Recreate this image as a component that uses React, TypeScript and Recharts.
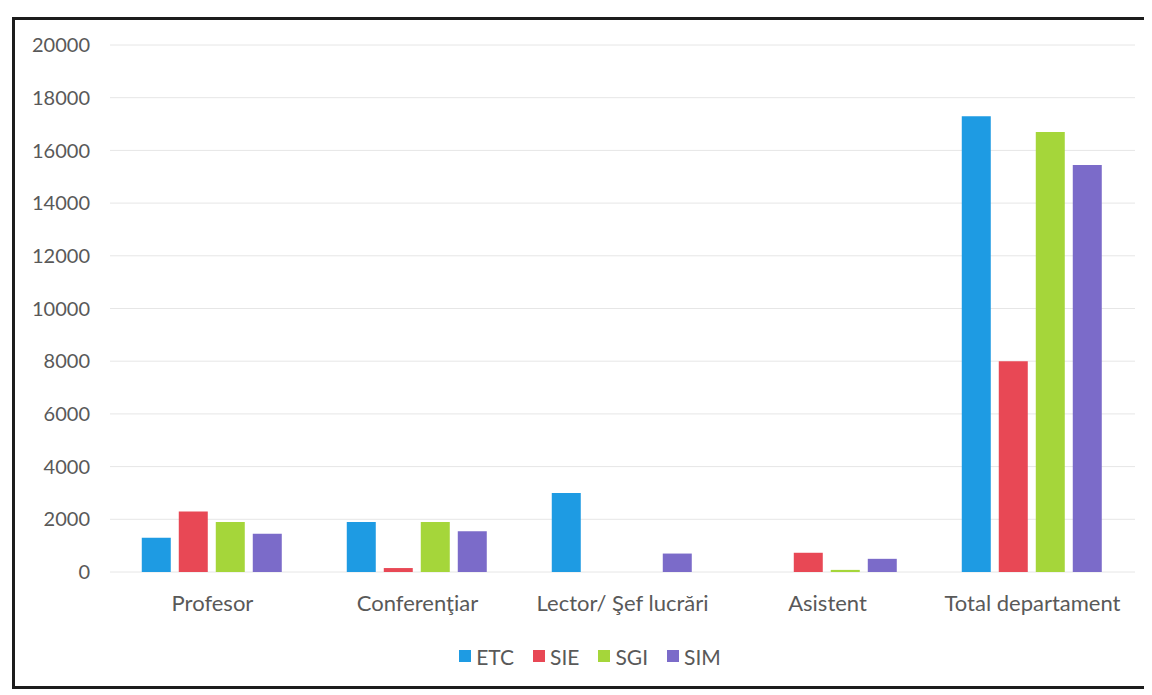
import { BarChart, Bar, XAxis, YAxis, CartesianGrid, Legend } from 'recharts';

const categories = ['Profesor', 'Conferenţiar', 'Lector/ Şef lucrări', 'Asistent', 'Total departament'];
const etc = [1300, 1900, 3000, 0, 17300];
const sie = [2300, 150, 0, 730, 8000];
const sgi = [1900, 1900, 0, 80, 16700];
const sim = [1450, 1550, 700, 500, 15450];
const yTicks = [0, 2000, 4000, 6000, 8000, 10000, 12000, 14000, 16000, 18000, 20000];
const seriesOrder = ['ETC', 'SIE', 'SGI', 'SIM'];

const data = categories.map((name, i) => ({
  name,
  ETC: etc[i],
  SIE: sie[i],
  SGI: sgi[i],
  SIM: sim[i],
}));

const FONT = 'Lato, "Open Sans", sans-serif';
const TEXT = '#595959';

// legend drawn from the payload, kept in series order
const renderLegend = ({ payload }: any) => {
  const items = [...(payload || [])].sort(
    (a: any, b: any) => seriesOrder.indexOf(a.value) - seriesOrder.indexOf(b.value)
  );
  return (
    <div style={{ display: 'flex', justifyContent: 'center', height: 30, alignItems: 'center', paddingLeft: 44 }}>
      {items.map((p: any) => (
        <span key={p.value} style={{ display: 'flex', alignItems: 'center', marginRight: 19 }}>
          <span style={{ width: 12, height: 12, background: p.color, display: 'inline-block', marginRight: 5 }} />
          <span style={{ fontSize: 21, color: TEXT, fontFamily: FONT }}>{p.value}</span>
        </span>
      ))}
    </div>
  );
};

export default function App() {
  return (
    <div style={{ position: 'relative', width: 1144, height: 687, fontFamily: FONT, overflow: 'hidden' }}>
      {/* scanned page frame */}
      <div
        style={{
          position: 'absolute',
          left: 4,
          top: 9,
          width: 1160,
          height: 672,
          border: '3px solid #1c1c1c',
          boxSizing: 'border-box',
        }}
      />
      <div style={{ position: 'absolute', left: 0, top: 0 }}>
        <BarChart
          width={1144}
          height={680}
          data={data}
          margin={{ top: 37, right: 17, left: 12, bottom: 17 }}
          barCategoryGap="15.5%"
          barGap={8}
        >
          <CartesianGrid vertical={false} stroke="#e6e6e6" />
          <XAxis
            dataKey="name"
            axisLine={false}
            tickLine={false}
            tickSize={0}
            tickMargin={23}
            height={69}
            interval={0}
            tick={{ fontSize: 22, fill: TEXT, fontFamily: FONT }}
          />
          <YAxis
            width={90}
            domain={[0, 20000]}
            ticks={yTicks}
            axisLine={false}
            tickLine={false}
            tickSize={0}
            tickMargin={20}
            tick={{ fontSize: 20, fill: TEXT, fontFamily: FONT }}
          />
          <Legend verticalAlign="bottom" height={30} content={renderLegend} />
          <Bar dataKey="ETC" fill="#1e9be3" isAnimationActive={false} />
          <Bar dataKey="SIE" fill="#e84855" isAnimationActive={false} />
          <Bar dataKey="SGI" fill="#a5d63a" isAnimationActive={false} />
          <Bar dataKey="SIM" fill="#7b6bc9" isAnimationActive={false} />
        </BarChart>
      </div>
    </div>
  );
}
